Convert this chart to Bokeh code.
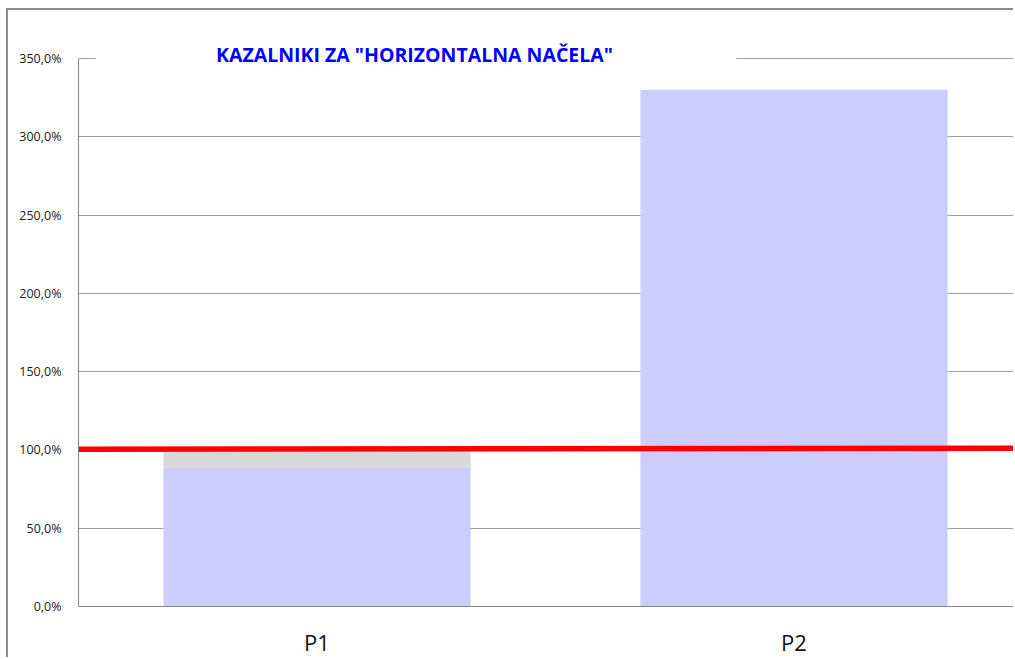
from bokeh.plotting import figure
from bokeh.models import (ColumnDataSource, Range1d, FixedTicker, BoxAnnotation, Label)
from bokeh.embed import file_html
from bokeh.resources import INLINE

# ---- data ----
categories = ["P1", "P2"]
achieved = [88.6, 330.0]          # % (lavender)
shortfall = [10.9, 0.0]           # % (grey, stacked on top)
target_line = [100.4, 101.0]      # red reference line (left edge, right edge)
y_ticks = [0, 50, 100, 150, 200, 250, 300, 350]
y_tick_labels = ["0,0%", "50,0%", "100,0%", "150,0%", "200,0%", "250,0%", "300,0%", "350,0%"]
title_text = 'KAZALNIKI ZA "HORIZONTALNA NAČELA"'

# ---- layout constants ----
W, H = 1007, 649
BL, BT, BB = 70, 20, 52
px_per_cat = 477.0
frame_w = W - BL
frame_h = H - BT - BB
x_end = frame_w / px_per_cat
y_top = 350.0 * frame_h / (frame_h - 28.0)
px_per_unit = frame_h / y_top

xs = [i + 0.5 for i in range(len(categories))]
src = ColumnDataSource(dict(x=xs, achieved=achieved, shortfall=shortfall))

p = figure(width=W, height=H, output_backend="svg", toolbar_location=None,
           x_range=Range1d(0, x_end), y_range=Range1d(0, y_top),
           min_border_left=BL, min_border_top=BT, min_border_bottom=BB,
           min_border_right=0)
p.styles = {"margin-left": "6px", "margin-top": "8px",
            "border-left": "2px solid #8C8C8C", "border-top": "2px solid #8C8C8C"}
p.outline_line_color = None
p.background_fill_color = "white"
p.border_fill_color = "white"

p.vbar_stack(["achieved", "shortfall"], x="x", width=0.644, source=src,
             color=["#CCCCFF", "#D9D9D9"], line_color=None)

p.line(x=[0, len(categories)], y=target_line, line_color="#FF0000", line_width=5.5)

# y axis
p.yaxis.ticker = FixedTicker(ticks=y_ticks)
p.yaxis.major_label_overrides = {t: l for t, l in zip(y_ticks, y_tick_labels)}
p.yaxis.bounds = (y_ticks[0], y_ticks[-1])
p.yaxis.axis_line_color = "#868686"
p.yaxis.major_tick_line_color = None
p.yaxis.minor_tick_line_color = None
p.yaxis.major_label_standoff = 11
p.yaxis.major_label_text_font = "Open Sans"
p.yaxis.major_label_text_font_size = "12.5px"
p.yaxis.major_label_text_color = "#1A1A1A"

# x axis
p.xaxis.ticker = FixedTicker(ticks=xs)
p.xaxis.major_label_overrides = {x: c for x, c in zip(xs, categories)}
p.xaxis.axis_line_color = "#868686"
p.xaxis.major_tick_line_color = None
p.xaxis.minor_tick_line_color = None
p.xaxis.major_label_standoff = 14
p.xaxis.major_label_text_font = "Open Sans"
p.xaxis.major_label_text_font_size = "22px"
p.xaxis.major_label_text_color = "#111111"

p.xgrid.grid_line_color = None
p.ygrid.ticker = FixedTicker(ticks=y_ticks)
p.ygrid.grid_line_color = "#A0A0A0"

# title box over the top gridline
p.add_layout(BoxAnnotation(left=17 / px_per_cat, right=658 / px_per_cat,
                           bottom=y_ticks[-1] - 4, fill_color="white", fill_alpha=1.0,
                           line_color=None))
p.add_layout(Label(x=336 / px_per_cat, y=y_ticks[-1] + 4.0 / px_per_unit, text=title_text,
                   text_align="center", text_baseline="middle",
                   text_font="Open Sans", text_font_style="bold",
                   text_font_size="19.5px", text_color="#0000FF"))

open("out.html", "w").write(file_html(p, INLINE))
